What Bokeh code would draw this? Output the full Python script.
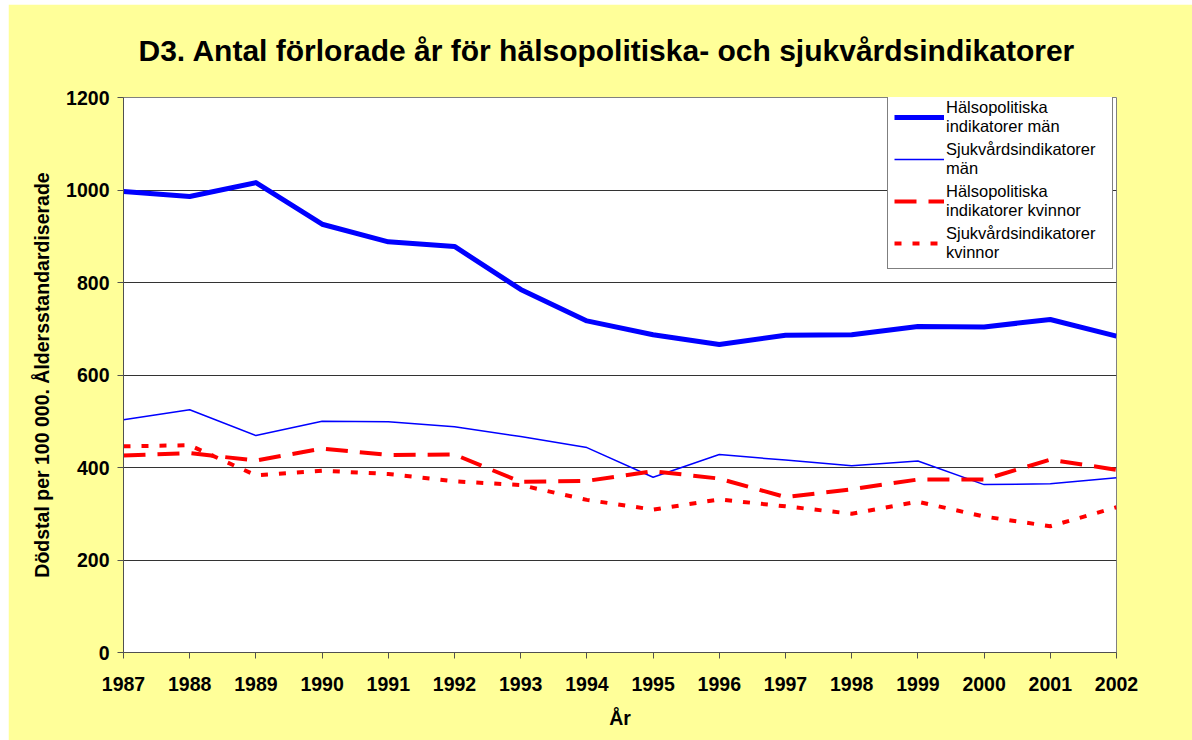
from bokeh.plotting import figure
from bokeh.models import Range1d, FixedTicker, Legend, LegendItem, ColumnDataSource
from bokeh.embed import file_html
from bokeh.resources import INLINE

# ---- data ----
years = [1987, 1988, 1989, 1990, 1991, 1992, 1993, 1994, 1995,
         1996, 1997, 1998, 1999, 2000, 2001, 2002]
halso_man = [997, 986, 1016, 926, 888, 878, 785, 717, 687, 666, 686, 687, 705, 704, 720, 684]
sjukv_man = [503, 525, 469, 500, 499, 488, 467, 443, 379, 428, 416, 404, 414, 363, 365, 378]
halso_kv = [426, 431, 415, 441, 427, 428, 369, 371, 392, 376, 336, 353, 374, 374, 417, 395]
sjukv_kv = [446, 448, 383, 393, 386, 370, 362, 330, 309, 331, 316, 300, 326, 294, 273, 314]

y_ticks = [0, 200, 400, 600, 800, 1000, 1200]

labels = ["Hälsopolitiska\nindikatorer män",
          "Sjukvårdsindikatorer\nmän",
          "Hälsopolitiska\nindikatorer kvinnor",
          "Sjukvårdsindikatorer\nkvinnor"]

title_text = "D3. Antal förlorade år för hälsopolitiska- och sjukvårdsindikatorer"
x_label = "År"
y_label = "Dödstal per 100 000. Åldersstandardiserade"

FONT = "Liberation Sans"

src = ColumnDataSource(dict(year=years, hm=halso_man, sm=sjukv_man, hk=halso_kv, sk=sjukv_kv))

p = figure(width=1184, height=736, output_backend="svg", toolbar_location=None,
           x_range=Range1d(1987, 2002), y_range=Range1d(0, 1200),
           min_border_left=115, min_border_right=76, min_border_top=93, min_border_bottom=88,
           margin=(4, 0, 0, 8))

p.border_fill_color = "#FFFF99"
p.background_fill_color = "white"
p.outline_line_color = "#808080"
p.outline_line_width = 1

# title
p.title.text = title_text
p.title.text_font = FONT
p.title.text_font_size = "30px"
p.title.text_font_style = "bold"
p.title.text_color = "black"
p.title.align = "left"
p.title.vertical_align = "top"
p.title.offset = 15
p.title.standoff = 58

# axes
p.xaxis.ticker = FixedTicker(ticks=years)
p.yaxis.ticker = FixedTicker(ticks=y_ticks)
for ax in (p.xaxis[0], p.yaxis[0]):
    ax.major_label_text_font = FONT
    ax.major_label_text_font_size = "19.5px"
    ax.major_label_text_font_style = "bold"
    ax.major_label_text_color = "black"
    ax.axis_label_text_font = FONT
    ax.axis_label_text_font_size = "19.5px"
    ax.axis_label_text_font_style = "bold"
    ax.axis_label_text_color = "black"
    ax.axis_line_color = "#505050"
    ax.major_tick_line_color = "#505050"
    ax.major_tick_out = 6
    ax.major_tick_in = 0
    ax.minor_tick_out = 0
    ax.minor_tick_in = 0

p.xaxis.axis_label = x_label
p.yaxis.axis_label = y_label
p.xaxis.major_label_standoff = 18
p.yaxis.major_label_standoff = 8
p.xaxis.axis_label_standoff = 13
p.yaxis.axis_label_standoff = 10

p.xgrid.grid_line_color = None
p.ygrid.grid_line_color = "#333333"
p.ygrid.grid_line_width = 1

# lines
r1 = p.line("year", "hm", source=src, line_color="#0000FF", line_width=5, line_join="round")
r2 = p.line("year", "sm", source=src, line_color="#0000FF", line_width=1.5, line_join="round")
r3 = p.line("year", "hk", source=src, line_color="#FF0000", line_width=4, line_dash="22 12")
r4 = p.line("year", "sk", source=src, line_color="#FF0000", line_width=4, line_dash="7 11")

legend = Legend(items=[LegendItem(label=labels[0], renderers=[r1]),
                       LegendItem(label=labels[1], renderers=[r2]),
                       LegendItem(label=labels[2], renderers=[r3]),
                       LegendItem(label=labels[3], renderers=[r4])],
                location=(764, 383))
legend.label_text_font = FONT
legend.label_text_font_size = "16.5px"
legend.label_text_color = "black"
legend.border_line_color = "black"
legend.border_line_width = 1
legend.background_fill_color = "white"
legend.background_fill_alpha = 1.0
legend.glyph_width = 50
legend.glyph_height = 20
legend.label_standoff = 2
legend.label_width = 160
legend.padding = 6
legend.spacing = 4
legend.margin = 0
p.add_layout(legend, "center")

open("out.html", "w").write(file_html(p, INLINE))
